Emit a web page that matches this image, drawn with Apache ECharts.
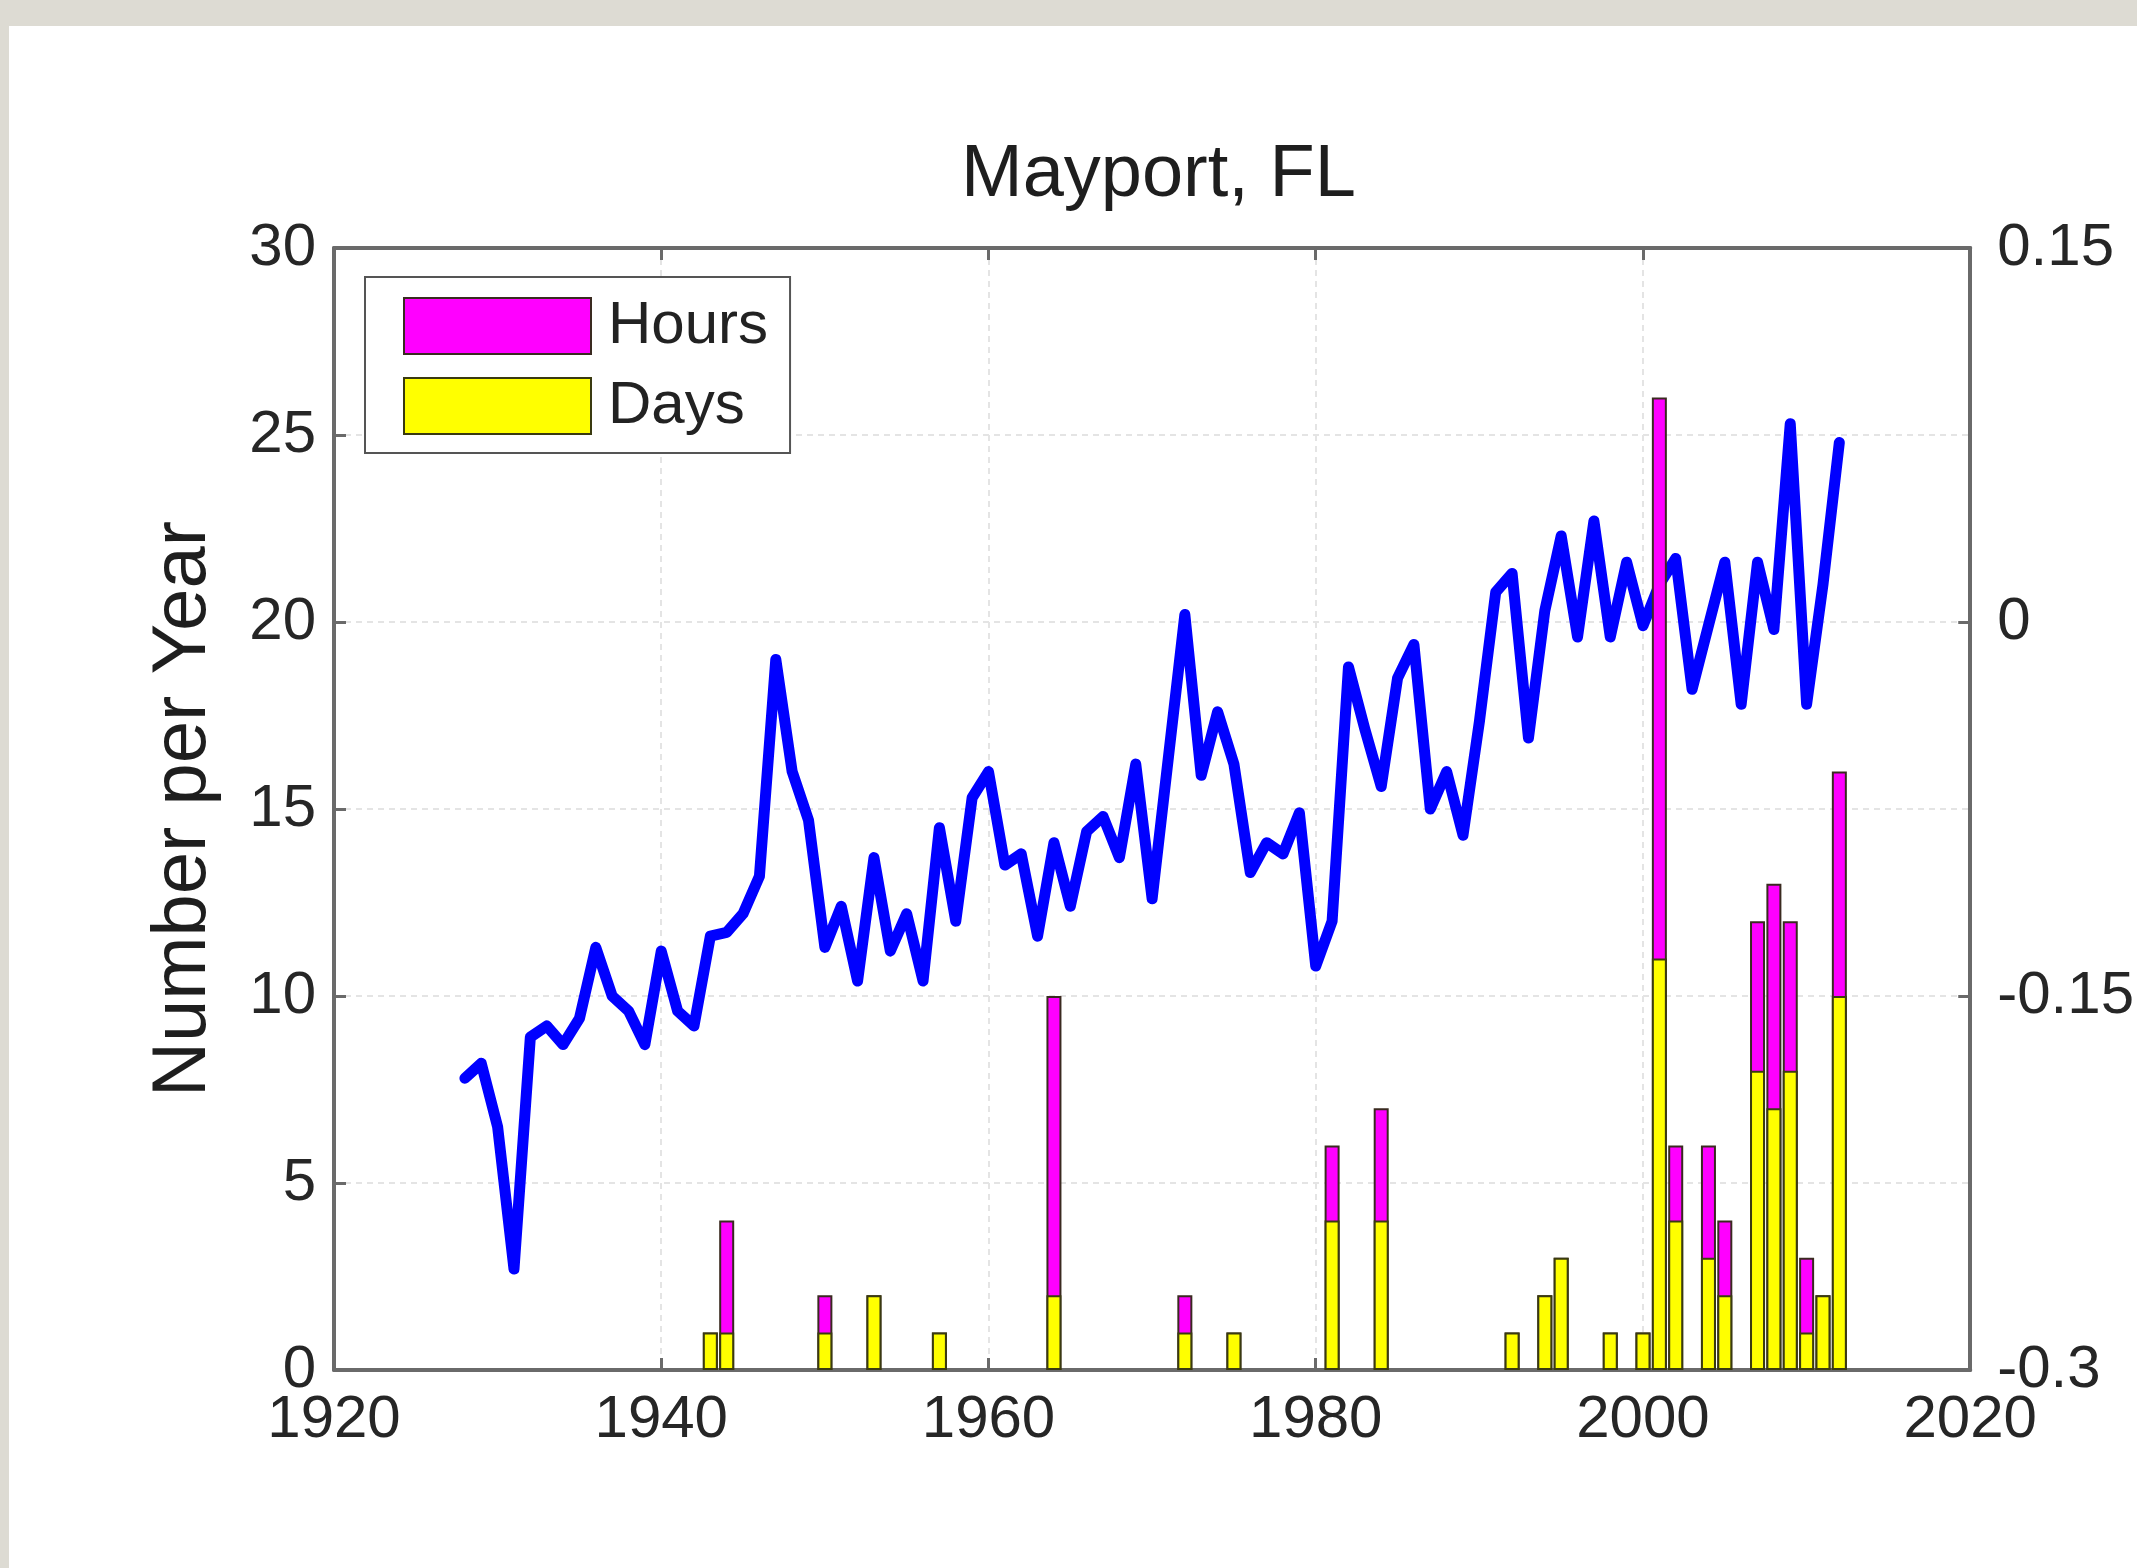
<!DOCTYPE html>
<html>
<head>
<meta charset="utf-8">
<script src="https://cdn.jsdelivr.net/npm/echarts@6/dist/echarts.min.js"></script>
<style>
  html,body{margin:0;padding:0;background:#dddbd3;}
  #chart{width:2137px;height:1568px;}
</style>
</head>
<body>
<div id="chart"></div>
<script>
// sea level line (right axis, m)
var lineYears=[1928,1929,1930,1931,1932,1933,1934,1935,1936,1937,1938,1939,1940,1941,1942,1943,1944,1945,1946,1947,
  1948,1949,1950,1951,1952,1953,1954,1955,1956,1957,1958,1959,1960,1961,1962,1963,1964,1965,1966,1967,
  1968,1969,1970,1971,1972,1973,1974,1975,1976,1977,1978,1979,1980,1981,1982,1983,1984,1985,1986,1987,
  1988,1989,1990,1991,1992,1993,1994,1995,1996,1997,1998,1999,2000,2001,2002,2003,2004,2005,2006,2007,
  2008,2009,2010,2011,2012];
var seaLevel=[-0.183,-0.177,-0.2025,-0.2595,-0.1665,-0.162,-0.1695,-0.159,-0.1305,-0.150,-0.156,-0.1695,-0.132,-0.156,-0.162,-0.126,-0.1245,-0.117,-0.102,-0.015,
  -0.060,-0.0795,-0.1305,-0.114,-0.144,-0.0945,-0.132,-0.117,-0.144,-0.0825,-0.120,-0.0705,-0.060,-0.0975,-0.093,-0.126,-0.0885,-0.114,-0.084,-0.078,
  -0.0945,-0.057,-0.111,-0.054,0.003,-0.0615,-0.036,-0.057,-0.1005,-0.0885,-0.093,-0.0765,-0.138,-0.120,-0.018,-0.043,-0.066,-0.0225,-0.009,-0.075,
  -0.060,-0.0855,-0.040,0.012,0.0195,-0.0465,0.0045,0.0345,-0.006,0.0405,-0.006,0.024,-0.0015,0.015,0.0255,-0.027,-0.0015,0.024,-0.033,0.024,
  -0.003,0.0795,-0.033,0.015,0.072];

// flood counts (left axis)
var barYears=[1943,1944,1950,1953,1957,1964,1972,1975,1981,1984,1992,1994,1995,1998,2000,2001,2002,2004,2005,2007,2008,2009,2010,2011,2012];
var hours=[1,4,2,2,1,10,2,1,6,7,1,2,3,1,1,26,6,6,4,12,13,12,3,2,16];
var days=[1,1,1,2,1,2,1,1,4,4,1,2,3,1,1,11,4,3,2,8,7,8,1,2,10];

var font="'Liberation Sans', Arial, sans-serif";
var axisCol='#6a6a6a';

function pairs(xs,ys){
  var out=[];
  for(var i=0;i<xs.length;i++){
    out.push([xs[i],ys[i]]);
  }
  return out;
}

var option={
  backgroundColor:'#dddbd3',
  animation:false,
  graphic:[{
    type:'rect',z:-10,
    shape:{x:9,y:26,width:2128,height:1542},
    style:{fill:'#ffffff'}
  }],
  title:{
    text:'Mayport, FL',
    left:956,
    top:134,
    textStyle:{fontFamily:font,fontSize:74,fontWeight:'normal',color:'#1e1e1e'}
  },
  legend:{
    data:['Hours','Days'],
    orient:'vertical',
    left:365,
    top:277,
    padding:[19,22,17,38],
    itemGap:20,
    itemWidth:187,
    itemHeight:56,
    icon:'rect',
    borderColor:'#555',
    borderWidth:2,
    backgroundColor:'#fff',
    textStyle:{fontFamily:font,fontSize:60,color:'#222',padding:[0,0,0,12]}
  },
  grid:{left:334,top:248,right:161,bottom:198},
  xAxis:[
    {
      type:'value',min:1920,max:2020,interval:20,
      axisLine:{onZero:false,lineStyle:{color:axisCol,width:4}},
      axisTick:{inside:true,length:12,lineStyle:{color:axisCol,width:3}},
      axisLabel:{fontFamily:font,fontSize:60,color:'#262626',margin:20,
        formatter:function(v){return String(v);}},
      splitLine:{show:true,lineStyle:{color:'#e4e4e4',width:2,type:[6,5]}}
    },
    {
      type:'value',position:'top',min:1920,max:2020,interval:20,
      axisLine:{show:true,onZero:false,lineStyle:{color:axisCol,width:4}},
      axisTick:{inside:true,length:12,lineStyle:{color:axisCol,width:3}},
      axisLabel:{show:false},
      splitLine:{show:false}
    }
  ],
  yAxis:[
    {
      type:'value',min:0,max:30,interval:5,
      name:'Number per Year',
      nameLocation:'middle',
      nameGap:112,
      nameTextStyle:{fontFamily:font,fontSize:76,color:'#1e1e1e'},
      axisLine:{show:true,onZero:false,lineStyle:{color:axisCol,width:4}},
      axisTick:{show:true,inside:true,length:12,lineStyle:{color:axisCol,width:3}},
      axisLabel:{fontFamily:font,fontSize:60,color:'#262626',margin:18},
      splitLine:{show:true,lineStyle:{color:'#e4e4e4',width:2,type:[6,5]}}
    },
    {
      type:'value',position:'right',min:-0.3,max:0.15,interval:0.15,
      axisLine:{show:true,onZero:false,lineStyle:{color:axisCol,width:4}},
      axisTick:{show:true,inside:true,length:12,lineStyle:{color:axisCol,width:3}},
      axisLabel:{fontFamily:font,fontSize:60,color:'#262626',margin:27,
        formatter:function(v){return String(+v.toFixed(2));}},
      splitLine:{show:false}
    }
  ],
  series:[
    {
      name:'Sea level',
      type:'line',
      xAxisIndex:0,yAxisIndex:1,
      data:pairs(lineYears,seaLevel),
      showSymbol:false,
      z:2,
      lineStyle:{color:'#0000ff',width:11,join:'round',cap:'round'}
    },
    {
      name:'Hours',
      type:'bar',
      xAxisIndex:0,yAxisIndex:0,
      data:pairs(barYears,hours),
      barWidth:15,
      barGap:'-100%',
      z:3,
      itemStyle:{color:'#ff00ff',borderColor:'#3a2a20',borderWidth:2}
    },
    {
      name:'Days',
      type:'bar',
      xAxisIndex:0,yAxisIndex:0,
      data:pairs(barYears,days),
      barWidth:15,
      barGap:'-100%',
      z:3,
      itemStyle:{color:'#ffff00',borderColor:'#3a3a10',borderWidth:2}
    }
  ]
};

var chart=echarts.init(document.getElementById('chart'));
chart.setOption(option);
</script>
</body>
</html>
